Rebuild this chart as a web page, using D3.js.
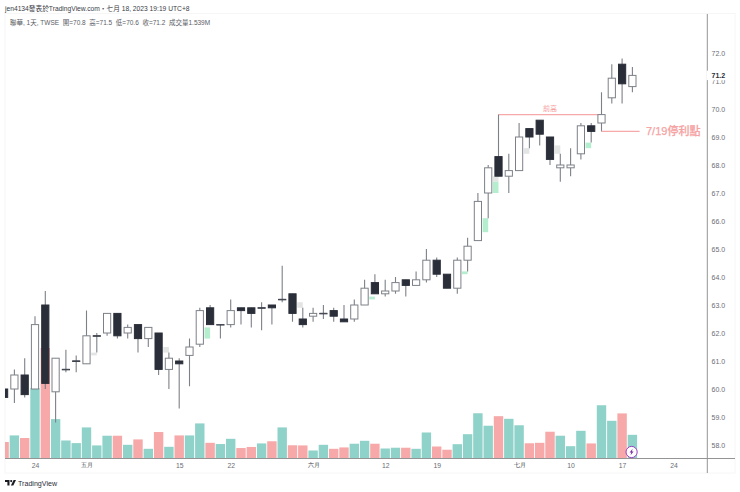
<!DOCTYPE html>
<html>
<head>
<meta charset="utf-8">
<script src="https://cdn.jsdelivr.net/npm/d3@7"></script>
<style>
  html, body { margin: 0; padding: 0; background: #fff; }
  svg { display: block; font-family: "Liberation Sans", "Noto Sans CJK TC", sans-serif; }
</style>
</head>
<body>
<svg class="chart" width="740" height="492"></svg>
<script>
const opens = [60.0,60.0,60.5,60.0,63.0,59.9,60.7,61.0,60.9,61.9,62.0,62.7,62.0,62.3,61.8,62.0,60.7,61.0,61.2,61.6,62.9,62.3,62.3,62.9,62.9,62.9,63.0,63.2,63.4,62.5,62.6,62.7,62.8,62.5,62.5,63.0,63.8,63.4,63.5,63.9,63.7,63.9,64.6,64.1,63.6,64.6,65.3,67.0,68.3,67.6,67.8,69.3,69.6,69.0,67.9,67.9,68.4,69.4,69.5,70.4,71.6,70.8];
const highs = [60.0,60.7,61.1,62.6,63.5,61.1,61.4,61.2,62.8,62.0,62.7,62.7,62.3,62.3,62.2,62.0,61.3,61.1,61.8,62.9,63.0,62.3,63.2,62.9,62.9,63.1,63.0,64.4,63.4,62.9,62.9,63.0,62.9,63.0,63.2,63.9,64.1,63.9,64.0,63.9,64.2,65.0,64.7,64.1,64.7,65.4,67.0,68.0,69.8,68.4,69.5,69.3,69.6,69.0,68.4,68.6,69.5,69.5,70.6,71.6,71.8,71.5];
const lows = [59.7,59.5,59.7,60.0,60.0,58.8,60.6,60.6,60.9,61.3,61.9,61.8,61.8,61.3,61.5,60.5,60.0,59.3,60.1,61.5,62.3,61.8,62.2,62.3,62.2,62.1,62.3,63.1,62.4,62.2,62.4,62.5,62.4,62.4,62.4,63.0,63.4,63.3,63.4,63.3,63.7,63.8,64.0,63.6,63.4,64.2,65.3,66.1,67.6,67.0,67.8,68.6,68.7,68.0,67.4,67.6,68.2,68.8,69.2,70.2,70.2,70.6];
const closes = [59.7,60.5,59.8,62.3,60.2,61.1,60.7,61.0,61.9,61.9,62.7,61.9,62.2,61.8,62.2,60.7,61.1,60.9,61.5,62.8,62.3,62.3,62.8,62.8,62.7,62.9,62.9,63.2,62.7,62.3,62.7,62.7,62.6,62.4,63.0,63.6,63.4,63.5,63.8,63.7,63.9,64.6,64.1,63.6,64.6,65.1,66.7,67.9,67.6,67.8,69.0,69.0,69.1,68.2,68.0,68.0,69.4,69.2,69.8,71.1,70.9,71.2];
const volumes = [1.07,1.50,1.33,4.58,7.18,2.56,1.17,1.00,2.02,0.85,1.48,1.48,0.89,1.24,0.63,1.72,0.76,1.50,1.50,2.28,1.02,0.94,1.28,0.68,0.75,0.98,1.12,2.02,0.86,0.85,0.52,0.89,0.63,0.72,0.96,1.15,0.96,0.65,0.70,0.70,0.63,1.69,0.78,0.57,0.93,1.58,2.94,2.13,2.75,2.58,2.16,0.99,1.02,1.74,1.48,0.80,1.80,0.98,3.46,2.45,2.93,1.539];

// pale half-width blocks left of some candles
const shadeBars = [9,16,20,29,36,45,47,48,48,51,54,57];
const shadeTops = [61.3,61.5,62.2,63.1,63.3,64.2,66.1,67.6,67.4,68.6,68.7,68.8];
const shadeBottoms = [61.2,61.3,61.8,62.9,63.2,64.1,65.6,67.4,67.0,68.4,68.4,68.6];
const shadeColors = ["#e3e5e4","#e3e5e4","#b5edcf","#e3e5e4","#b5edcf","#b5edcf","#b5edcf","#e3e5e4","#b5edcf","#e3e5e4","#e3e5e4","#b5edcf"];

const xTickBars = [3,8,17,22,30,37,42,50,55,60,65];
const xTickLabels = ["24","五月","15","22","六月","12","19","七月","10","17","24"];
const monthLabels = ["五月","六月","七月"];
const priceTicks = [58,59,60,61,62,63,64,65,66,67,68,69,70,71,72];

const lastPrice = 71.2;
const prevHigh = 69.8;
const stopPrice = 69.2;

const svg = d3.select("svg.chart");

const x = d3.scaleLinear().domain([0, 65]).range([4.1, 673.6]);
const y = d3.scaleLinear().domain([58, 72]).range([445, 53]);
const yVol = d3.scaleLinear().domain([0, 7.2]).range([458.5, 347.7]);

const idx = d3.range(opens.length);
const up = (i) => closes[i] >= opens[i];

svg.append("clipPath").attr("id", "plot")
  .append("rect").attr("x", 5).attr("y", 14).attr("width", 702).attr("height", 444.5);

// frame
svg.append("rect")
  .attr("x", 5).attr("y", 13.5).attr("width", 730).attr("height", 459.5)
  .attr("fill", "none").attr("stroke", "#f6f6f6");

const plot = svg.append("g").attr("clip-path", "url(#plot)");

// volume
plot.append("g")
  .selectAll("rect")
  .data(idx)
  .enter()
  .append("rect")
  .attr("x", (i) => x(i) - 4.7)
  .attr("width", 9.4)
  .attr("y", (i) => yVol(volumes[i]))
  .attr("height", (i) => yVol(0) - yVol(volumes[i]))
  .attr("fill", (i) => (up(i) ? "#8fd2c9" : "#f7a8a8"));

// pale blocks
plot.append("g")
  .selectAll("rect")
  .data(d3.range(shadeBars.length))
  .enter()
  .append("rect")
  .attr("x", (k) => x(shadeBars[k]) - 5.6)
  .attr("width", 5.6)
  .attr("y", (k) => y(shadeTops[k]))
  .attr("height", (k) => y(shadeBottoms[k]) - y(shadeTops[k]))
  .attr("fill", (k) => shadeColors[k]);

// annotations
plot.append("line")
  .attr("x1", x(48)).attr("x2", x(58))
  .attr("y1", y(prevHigh)).attr("y2", y(prevHigh))
  .attr("stroke", "#f5a9a9").attr("stroke-width", 1.2);

svg.append("line")
  .attr("x1", x(58)).attr("x2", x(61.7))
  .attr("y1", y(stopPrice)).attr("y2", y(stopPrice))
  .attr("stroke", "#f5a9a9").attr("stroke-width", 1.2);

svg.append("text")
  .attr("x", (x(48) + x(58)) / 2).attr("y", y(prevHigh) - 3.4)
  .attr("text-anchor", "middle")
  .attr("font-size", 7).attr("fill", "#f5a0a0")
  .text("前高");

svg.append("text")
  .attr("x", 646).attr("y", y(stopPrice) + 4)
  .attr("font-size", 11).attr("font-weight", 500).attr("fill", "#f5a3a3")
  .attr("stroke", "#f5a3a3").attr("stroke-width", 0.25)
  .text("7/19停利點");

// candles
const candles = plot.append("g");

candles.selectAll("line")
  .data(idx)
  .enter()
  .append("line")
  .attr("x1", (i) => x(i)).attr("x2", (i) => x(i))
  .attr("y1", (i) => y(highs[i])).attr("y2", (i) => y(lows[i]))
  .attr("stroke", "#7d8087").attr("stroke-width", 1.1);

candles.selectAll("rect")
  .data(idx)
  .enter()
  .append("rect")
  .attr("x", (i) => x(i) - 3.6)
  .attr("width", 7.2)
  .attr("y", (i) => y(Math.max(opens[i], closes[i])))
  .attr("height", (i) => Math.max(Math.abs(y(opens[i]) - y(closes[i])), 0.4))
  .attr("fill", (i) => (closes[i] > opens[i] ? "#fff" : "#2a2e39"))
  .attr("stroke", (i) => (closes[i] > opens[i] ? "#7d8087" : "#2a2e39"))
  .attr("stroke-width", 1);

// doji are drawn as a short bar
candles.selectAll("line.doji")
  .data(idx.filter((i) => closes[i] === opens[i]))
  .enter()
  .append("line")
  .attr("class", "doji")
  .attr("x1", (i) => x(i) - 3.6).attr("x2", (i) => x(i) + 3.6)
  .attr("y1", (i) => y(closes[i])).attr("y2", (i) => y(closes[i]))
  .attr("stroke", "#4a4e58").attr("stroke-width", 1);

// axis lines
svg.append("line")
  .attr("x1", 5).attr("x2", 735).attr("y1", 458.5).attr("y2", 458.5)
  .attr("stroke", "#949494").attr("stroke-width", 1);
svg.append("line")
  .attr("x1", 707.3).attr("x2", 707.3).attr("y1", 14).attr("y2", 473)
  .attr("stroke", "#949494").attr("stroke-width", 1);

// price axis
const yAxis = svg.append("g")
  .attr("transform", "translate(711.5,0)")
  .call(d3.axisRight(y).tickValues(priceTicks).tickSize(0).tickPadding(0).tickFormat(d3.format(".1f")));
yAxis.select(".domain").remove();
yAxis.selectAll("text")
  .attr("font-family", "inherit").attr("font-size", 7).attr("fill", "#6a6d75");

// last price label
svg.append("rect")
  .attr("x", 706.5).attr("y", y(lastPrice) - 4.7).attr("width", 27).attr("height", 9.4).attr("fill", "#fff");
svg.append("text")
  .attr("x", 711.5).attr("y", y(lastPrice) + 2.6)
  .attr("font-size", 7).attr("font-weight", 700).attr("fill", "#2a2e39")
  .text(d3.format(".1f")(lastPrice));

// time axis
const xAxis = svg.append("g")
  .attr("transform", "translate(0,463)")
  .call(d3.axisBottom(x).tickValues(xTickBars).tickSize(0).tickPadding(0)
    .tickFormat((d, i) => xTickLabels[i]));
xAxis.select(".domain").remove();
xAxis.selectAll("text")
  .attr("font-family", "inherit").attr("font-size", (d, i) => (monthLabels.includes(xTickLabels[i]) ? 6.2 : 6.8))
  .attr("font-weight", (d, i) => (monthLabels.includes(xTickLabels[i]) ? 500 : 400))
  .attr("fill", (d, i) => (monthLabels.includes(xTickLabels[i]) ? "#3c3f47" : "#6a6d75"));

// earnings badge on the last bar
const badge = svg.append("g").attr("transform", `translate(${x(61) - 0.8},452)`);
badge.append("circle").attr("r", 5.6).attr("fill", "#fff").attr("stroke", "#9b3fc4").attr("stroke-width", 1);
badge.append("path").attr("d", "M1,-3.2 L-2,0.6 L-0.3,0.6 L-1,3.2 L2,-0.6 L0.3,-0.6 Z").attr("fill", "#7b2fa8");

// header
svg.append("text")
  .attr("x", 5).attr("y", 10.7)
  .attr("font-size", 6.7).attr("fill", "#3a3d45")
  .text("jen4134發表於TradingView.com・七月 18, 2023 19:19 UTC+8");
svg.append("text")
  .attr("x", 10).attr("y", 25)
  .attr("font-size", 6.5).attr("fill", "#5a5d65")
  .attr("xml:space", "preserve")
  .text("聯華, 1天, TWSE  開=70.8  高=71.5  低=70.6  收=71.2  成交量1.539M");

// footer logo
const logo = svg.append("g").attr("transform", "translate(5,480)").attr("fill", "#1a1c22");
logo.append("path").attr("d", "M0,0 H4.5 V5.4 H2.4 V2 H0 Z");
logo.append("circle").attr("cx", 6.2).attr("cy", 1.1).attr("r", 1.1);
logo.append("path").attr("d", "M8.6,0 H11 L8.3,5.4 H5.9 Z");
svg.append("text")
  .attr("x", 18).attr("y", 485.5)
  .attr("font-size", 7.1).attr("fill", "#2a2e39")
  .text("TradingView");
</script>
</body>
</html>
